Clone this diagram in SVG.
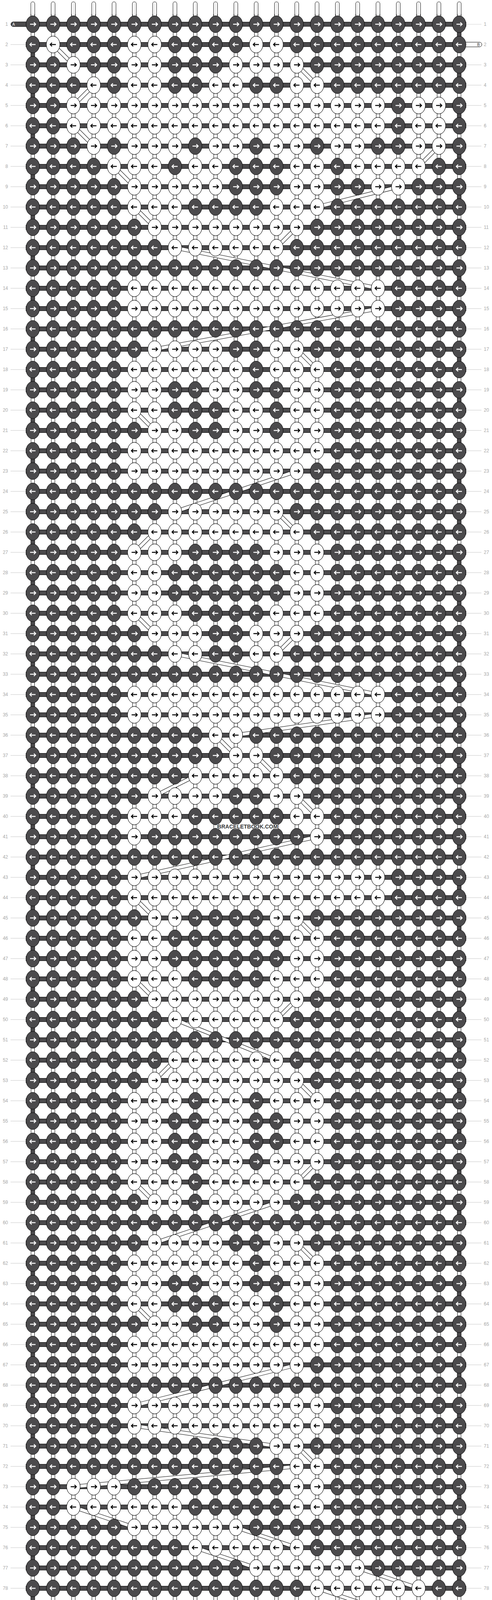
<svg xmlns="http://www.w3.org/2000/svg" width="1260" height="4232" viewBox="0 0 1260 4232">
<defs>
<style>
.kd{fill:#4b4a4c;stroke:#000;stroke-width:1}
.kw{fill:#fff;stroke:#000;stroke-width:1}
.aw{fill:none;stroke:#fff;stroke-width:2.3}
.ab{fill:none;stroke:#000;stroke-width:2.3}
.ll{font-family:"Liberation Sans",Arial,sans-serif;font-size:12px;fill:#a8a8a8}
.lt{font-family:"Liberation Sans",Arial,sans-serif;font-size:10px}
.wm{font-family:"Liberation Sans",Arial,sans-serif;font-size:14px;font-weight:bold;fill:#3a3a3a;stroke:#fff;stroke-width:2;paint-order:stroke}
</style>
<g id="dr"><ellipse rx="17.3" ry="21.5" class="kd"/><path d="M-7 0H7.5M2.8-4.7L7.5 0L2.8 4.7" class="aw"/></g>
<g id="dl"><ellipse rx="17.3" ry="21.5" class="kd"/><path d="M7 0H-7.5M-2.8-4.7L-7.5 0L-2.8 4.7" class="aw"/></g>
<g id="wr"><ellipse rx="17.3" ry="21.5" class="kw"/><path d="M-7 0H7.5M2.8-4.7L7.5 0L2.8 4.7" class="ab"/></g>
<g id="wl"><ellipse rx="17.3" ry="21.5" class="kw"/><path d="M7 0H-7.5M-2.8-4.7L-7.5 0L-2.8 4.7" class="ab"/></g>
<pattern id="pTop" patternUnits="userSpaceOnUse" x="58" y="3.5" width="52" height="38">
<path d="M21 38V6a5 5 0 0 1 10 0V38" fill="#fff" stroke="#000"/><path d="M26 3V38" stroke="#c8c8c8"/>
</pattern>
<pattern id="pBot" patternUnits="userSpaceOnUse" x="58" y="4190" width="52" height="38">
<path d="M21 0V32a5 5 0 0 0 10 0V0" fill="#fff" stroke="#000"/><path d="M26 0V35" stroke="#c8c8c8"/>
</pattern>
<pattern id="pThr" patternUnits="userSpaceOnUse" x="58" y="36" width="52" height="104">
<rect x="21" y="0" width="10" height="104" fill="#fff"/>
<path d="M21.5 0V104M30.5 0V104" stroke="#000"/>
<path d="M26 0V104" stroke="#c8c8c8"/>
<rect x="0" y="20" width="52" height="12" fill="#4b4a4c"/>
<rect x="0" y="72" width="52" height="12" fill="#4b4a4c"/>
<path d="M0 20.5H52M0 31.5H52M0 72.5H52M0 83.5H52" stroke="#000"/>
</pattern>
<pattern id="pKn" patternUnits="userSpaceOnUse" x="58" y="36" width="52" height="104">
<use href="#dr" x="26" y="26"/><use href="#dl" x="26" y="78"/>
</pattern>
<pattern id="pEdgeR" patternUnits="userSpaceOnUse" x="1170.5" y="62" width="11" height="104">
<rect x="0" y="0" width="11" height="52" fill="#4b4a4c"/><path d="M0.5 0V52M10.5 0V52" stroke="#000"/>
</pattern>
<pattern id="pEdgeL" patternUnits="userSpaceOnUse" x="78.5" y="114" width="11" height="104">
<rect x="0" y="0" width="11" height="52" fill="#4b4a4c"/><path d="M0.5 0V52M10.5 0V52" stroke="#000"/>
</pattern>
<pattern id="pLine" patternUnits="userSpaceOnUse" x="0" y="61.5" width="40" height="52">
<rect x="0" y="0" width="40" height="1" fill="#c4c4c4"/>
</pattern>
<path id="bands" fill="none" d="M136 114L188 166M760 166L812 218M240 218L188 270M188 322L240 374M1124 374L1072 426M292 426L344 478M1020 478L812 530M344 530L396 582M760 582L708 634M448 634L968 738M968 790L396 894M760 894L812 946M344 1050L396 1102M760 1206L448 1310M708 1310L760 1362M396 1362L344 1414M344 1570L396 1622M760 1622L708 1674M448 1674L968 1778M968 1830L604 1882M552 1882L604 1934M656 1934L708 1986M500 1986L396 2038M760 2038L812 2090M812 2142L344 2246M344 2298L396 2350M760 2350L812 2402M344 2506L396 2558M760 2558L708 2610M448 2610L708 2714M448 2714L396 2766M760 2766L812 2818M812 2974L760 3026M344 3026L396 3078M708 3078L396 3182M760 3182L812 3234M344 3338L396 3390M760 3494L344 3598M344 3650L708 3702M760 3702L812 3754M760 3754L188 3806M188 3858L344 3910M604 3910L760 3962M500 3962L656 4014M916 4014L1072 4066M812 4066L968 4118"/>
</defs>
<rect width="1260" height="4232" fill="#fff"/>
<g id="label-lines">
<rect x="27" y="61.5" width="40" height="4109" fill="url(#pLine)"/>
<rect x="1193" y="61.5" width="40" height="4109" fill="url(#pLine)"/>
</g>
<g id="strings">
<rect x="58" y="3.5" width="1144" height="38" fill="url(#pTop)"/>
<rect x="58" y="4190" width="1144" height="38" fill="url(#pBot)"/>
<rect x="66" y="36" width="1128" height="4160" fill="url(#pThr)"/>
<rect x="1170.5" y="62" width="11" height="4108" fill="url(#pEdgeR)"/>
<rect x="78.5" y="114" width="11" height="4004" fill="url(#pEdgeL)"/>
</g>
<g id="ends">
<g id="endA1"><rect x="28" y="56" width="52" height="12" rx="6" fill="#4b4a4c" stroke="#000"/><text class="lt" x="31.5" y="65.5" fill="#fff">A</text></g>
<g id="endA80"><rect x="28" y="4164" width="52" height="12" rx="6" fill="#4b4a4c" stroke="#000"/><text class="lt" x="31.5" y="4173.5" fill="#fff">A</text></g>
<g id="endB2"><rect x="1180" y="108" width="54" height="12" rx="6" fill="#fff" stroke="#000"/><text class="lt" x="1222" y="117.5" fill="#333">B</text></g>
<g id="endB79"><rect x="1180" y="4112" width="54" height="12" rx="6" fill="#fff" stroke="#000"/><text class="lt" x="1222" y="4121.5" fill="#333">B</text></g>
</g>
<g id="connectors">
<use href="#bands" stroke="#000" stroke-width="10"/>
<use href="#bands" stroke="#fff" stroke-width="8"/>
</g>
<g id="dark-knots"><rect x="58" y="36" width="1144" height="4160" fill="url(#pKn)"/></g>
<g id="white-knots">
<g id="r2" transform="translate(0 114)"><use href="#wl" x="136"/><use href="#wl" x="344"/><use href="#wl" x="396"/><use href="#wl" x="656"/><use href="#wl" x="708"/></g>
<g id="r3" transform="translate(0 166)"><use href="#wr" x="188"/><use href="#wr" x="344"/><use href="#wr" x="396"/><use href="#wr" x="604"/><use href="#wr" x="656"/><use href="#wr" x="708"/><use href="#wr" x="760"/></g>
<g id="r4" transform="translate(0 218)"><use href="#wl" x="240"/><use href="#wl" x="344"/><use href="#wl" x="396"/><use href="#wl" x="552"/><use href="#wl" x="604"/><use href="#wl" x="760"/><use href="#wl" x="812"/></g>
<g id="r5" transform="translate(0 270)"><use href="#wr" x="188"/><use href="#wr" x="240"/><use href="#wr" x="292"/><use href="#wr" x="344"/><use href="#wr" x="396"/><use href="#wr" x="448"/><use href="#wr" x="500"/><use href="#wr" x="552"/><use href="#wr" x="604"/><use href="#wr" x="656"/><use href="#wr" x="708"/><use href="#wr" x="760"/><use href="#wr" x="812"/><use href="#wr" x="864"/><use href="#wr" x="916"/><use href="#wr" x="968"/><use href="#wr" x="1072"/><use href="#wr" x="1124"/></g>
<g id="r6" transform="translate(0 322)"><use href="#wl" x="188"/><use href="#wl" x="240"/><use href="#wl" x="292"/><use href="#wl" x="344"/><use href="#wl" x="396"/><use href="#wl" x="448"/><use href="#wl" x="500"/><use href="#wl" x="552"/><use href="#wl" x="604"/><use href="#wl" x="656"/><use href="#wl" x="708"/><use href="#wl" x="760"/><use href="#wl" x="812"/><use href="#wl" x="864"/><use href="#wl" x="916"/><use href="#wl" x="968"/><use href="#wl" x="1072"/><use href="#wl" x="1124"/></g>
<g id="r7" transform="translate(0 374)"><use href="#wr" x="240"/><use href="#wr" x="344"/><use href="#wr" x="396"/><use href="#wr" x="448"/><use href="#wr" x="552"/><use href="#wr" x="604"/><use href="#wr" x="708"/><use href="#wr" x="760"/><use href="#wr" x="864"/><use href="#wr" x="916"/><use href="#wr" x="1072"/><use href="#wr" x="1124"/></g>
<g id="r8" transform="translate(0 426)"><use href="#wl" x="292"/><use href="#wl" x="344"/><use href="#wl" x="396"/><use href="#wl" x="500"/><use href="#wl" x="552"/><use href="#wl" x="760"/><use href="#wl" x="812"/><use href="#wl" x="916"/><use href="#wl" x="968"/><use href="#wl" x="1020"/><use href="#wl" x="1072"/></g>
<g id="r9" transform="translate(0 478)"><use href="#wr" x="344"/><use href="#wr" x="396"/><use href="#wr" x="448"/><use href="#wr" x="500"/><use href="#wr" x="552"/><use href="#wr" x="760"/><use href="#wr" x="812"/><use href="#wr" x="968"/><use href="#wr" x="1020"/></g>
<g id="r10" transform="translate(0 530)"><use href="#wl" x="344"/><use href="#wl" x="396"/><use href="#wl" x="448"/><use href="#wl" x="708"/><use href="#wl" x="760"/><use href="#wl" x="812"/></g>
<g id="r11" transform="translate(0 582)"><use href="#wr" x="396"/><use href="#wr" x="448"/><use href="#wr" x="500"/><use href="#wr" x="552"/><use href="#wr" x="604"/><use href="#wr" x="656"/><use href="#wr" x="708"/><use href="#wr" x="760"/></g>
<g id="r12" transform="translate(0 634)"><use href="#wl" x="448"/><use href="#wl" x="500"/><use href="#wl" x="552"/><use href="#wl" x="604"/><use href="#wl" x="656"/><use href="#wl" x="708"/></g>
<g id="r14" transform="translate(0 738)"><use href="#wl" x="344"/><use href="#wl" x="396"/><use href="#wl" x="448"/><use href="#wl" x="500"/><use href="#wl" x="552"/><use href="#wl" x="604"/><use href="#wl" x="656"/><use href="#wl" x="708"/><use href="#wl" x="760"/><use href="#wl" x="812"/><use href="#wl" x="864"/><use href="#wl" x="916"/><use href="#wl" x="968"/></g>
<g id="r15" transform="translate(0 790)"><use href="#wr" x="344"/><use href="#wr" x="396"/><use href="#wr" x="448"/><use href="#wr" x="500"/><use href="#wr" x="552"/><use href="#wr" x="604"/><use href="#wr" x="656"/><use href="#wr" x="708"/><use href="#wr" x="760"/><use href="#wr" x="812"/><use href="#wr" x="864"/><use href="#wr" x="916"/><use href="#wr" x="968"/></g>
<g id="r17" transform="translate(0 894)"><use href="#wr" x="396"/><use href="#wr" x="448"/><use href="#wr" x="500"/><use href="#wr" x="552"/><use href="#wr" x="708"/><use href="#wr" x="760"/></g>
<g id="r18" transform="translate(0 946)"><use href="#wl" x="344"/><use href="#wl" x="396"/><use href="#wl" x="448"/><use href="#wl" x="500"/><use href="#wl" x="552"/><use href="#wl" x="604"/><use href="#wl" x="708"/><use href="#wl" x="760"/><use href="#wl" x="812"/></g>
<g id="r19" transform="translate(0 998)"><use href="#wr" x="344"/><use href="#wr" x="396"/><use href="#wr" x="552"/><use href="#wr" x="604"/><use href="#wr" x="760"/><use href="#wr" x="812"/></g>
<g id="r20" transform="translate(0 1050)"><use href="#wl" x="344"/><use href="#wl" x="396"/><use href="#wl" x="604"/><use href="#wl" x="656"/><use href="#wl" x="760"/><use href="#wl" x="812"/></g>
<g id="r21" transform="translate(0 1102)"><use href="#wr" x="396"/><use href="#wr" x="448"/><use href="#wr" x="604"/><use href="#wr" x="656"/><use href="#wr" x="760"/><use href="#wr" x="812"/></g>
<g id="r22" transform="translate(0 1154)"><use href="#wl" x="344"/><use href="#wl" x="396"/><use href="#wl" x="448"/><use href="#wl" x="500"/><use href="#wl" x="552"/><use href="#wl" x="604"/><use href="#wl" x="656"/><use href="#wl" x="708"/><use href="#wl" x="760"/><use href="#wl" x="812"/></g>
<g id="r23" transform="translate(0 1206)"><use href="#wr" x="344"/><use href="#wr" x="396"/><use href="#wr" x="448"/><use href="#wr" x="500"/><use href="#wr" x="552"/><use href="#wr" x="604"/><use href="#wr" x="656"/><use href="#wr" x="708"/><use href="#wr" x="760"/></g>
<g id="r25" transform="translate(0 1310)"><use href="#wr" x="448"/><use href="#wr" x="500"/><use href="#wr" x="552"/><use href="#wr" x="604"/><use href="#wr" x="656"/><use href="#wr" x="708"/></g>
<g id="r26" transform="translate(0 1362)"><use href="#wl" x="396"/><use href="#wl" x="448"/><use href="#wl" x="500"/><use href="#wl" x="552"/><use href="#wl" x="604"/><use href="#wl" x="656"/><use href="#wl" x="708"/><use href="#wl" x="760"/></g>
<g id="r27" transform="translate(0 1414)"><use href="#wr" x="344"/><use href="#wr" x="396"/><use href="#wr" x="448"/><use href="#wr" x="708"/><use href="#wr" x="760"/><use href="#wr" x="812"/></g>
<g id="r28" transform="translate(0 1466)"><use href="#wl" x="344"/><use href="#wl" x="396"/><use href="#wl" x="760"/><use href="#wl" x="812"/></g>
<g id="r29" transform="translate(0 1518)"><use href="#wr" x="344"/><use href="#wr" x="396"/><use href="#wr" x="760"/><use href="#wr" x="812"/></g>
<g id="r30" transform="translate(0 1570)"><use href="#wl" x="344"/><use href="#wl" x="396"/><use href="#wl" x="448"/><use href="#wl" x="708"/><use href="#wl" x="760"/><use href="#wl" x="812"/></g>
<g id="r31" transform="translate(0 1622)"><use href="#wr" x="396"/><use href="#wr" x="448"/><use href="#wr" x="500"/><use href="#wr" x="656"/><use href="#wr" x="708"/><use href="#wr" x="760"/></g>
<g id="r32" transform="translate(0 1674)"><use href="#wl" x="448"/><use href="#wl" x="500"/><use href="#wl" x="656"/><use href="#wl" x="708"/></g>
<g id="r34" transform="translate(0 1778)"><use href="#wl" x="344"/><use href="#wl" x="396"/><use href="#wl" x="448"/><use href="#wl" x="500"/><use href="#wl" x="552"/><use href="#wl" x="604"/><use href="#wl" x="656"/><use href="#wl" x="708"/><use href="#wl" x="760"/><use href="#wl" x="812"/><use href="#wl" x="864"/><use href="#wl" x="916"/><use href="#wl" x="968"/></g>
<g id="r35" transform="translate(0 1830)"><use href="#wr" x="344"/><use href="#wr" x="396"/><use href="#wr" x="448"/><use href="#wr" x="500"/><use href="#wr" x="552"/><use href="#wr" x="604"/><use href="#wr" x="656"/><use href="#wr" x="708"/><use href="#wr" x="760"/><use href="#wr" x="812"/><use href="#wr" x="864"/><use href="#wr" x="916"/><use href="#wr" x="968"/></g>
<g id="r36" transform="translate(0 1882)"><use href="#wl" x="552"/><use href="#wl" x="604"/></g>
<g id="r37" transform="translate(0 1934)"><use href="#wr" x="604"/><use href="#wr" x="656"/></g>
<g id="r38" transform="translate(0 1986)"><use href="#wl" x="500"/><use href="#wl" x="552"/><use href="#wl" x="604"/><use href="#wl" x="656"/><use href="#wl" x="708"/></g>
<g id="r39" transform="translate(0 2038)"><use href="#wr" x="396"/><use href="#wr" x="448"/><use href="#wr" x="500"/><use href="#wr" x="552"/><use href="#wr" x="708"/><use href="#wr" x="760"/></g>
<g id="r40" transform="translate(0 2090)"><use href="#wl" x="344"/><use href="#wl" x="396"/><use href="#wl" x="448"/><use href="#wl" x="760"/><use href="#wl" x="812"/></g>
<g id="r41" transform="translate(0 2142)"><use href="#wr" x="344"/><use href="#wr" x="812"/></g>
<g id="r43" transform="translate(0 2246)"><use href="#wr" x="344"/><use href="#wr" x="396"/><use href="#wr" x="448"/><use href="#wr" x="500"/><use href="#wr" x="552"/><use href="#wr" x="604"/><use href="#wr" x="656"/><use href="#wr" x="708"/><use href="#wr" x="760"/><use href="#wr" x="812"/><use href="#wr" x="864"/><use href="#wr" x="916"/><use href="#wr" x="968"/></g>
<g id="r44" transform="translate(0 2298)"><use href="#wl" x="344"/><use href="#wl" x="396"/><use href="#wl" x="448"/><use href="#wl" x="500"/><use href="#wl" x="552"/><use href="#wl" x="604"/><use href="#wl" x="656"/><use href="#wl" x="708"/><use href="#wl" x="760"/><use href="#wl" x="812"/><use href="#wl" x="864"/><use href="#wl" x="916"/><use href="#wl" x="968"/></g>
<g id="r45" transform="translate(0 2350)"><use href="#wr" x="396"/><use href="#wr" x="448"/><use href="#wr" x="708"/><use href="#wr" x="760"/></g>
<g id="r46" transform="translate(0 2402)"><use href="#wl" x="344"/><use href="#wl" x="396"/><use href="#wl" x="760"/><use href="#wl" x="812"/></g>
<g id="r47" transform="translate(0 2454)"><use href="#wr" x="344"/><use href="#wr" x="396"/><use href="#wr" x="760"/><use href="#wr" x="812"/></g>
<g id="r48" transform="translate(0 2506)"><use href="#wl" x="344"/><use href="#wl" x="396"/><use href="#wl" x="448"/><use href="#wl" x="708"/><use href="#wl" x="760"/><use href="#wl" x="812"/></g>
<g id="r49" transform="translate(0 2558)"><use href="#wr" x="396"/><use href="#wr" x="448"/><use href="#wr" x="500"/><use href="#wr" x="552"/><use href="#wr" x="604"/><use href="#wr" x="656"/><use href="#wr" x="708"/><use href="#wr" x="760"/></g>
<g id="r50" transform="translate(0 2610)"><use href="#wl" x="448"/><use href="#wl" x="500"/><use href="#wl" x="552"/><use href="#wl" x="604"/><use href="#wl" x="656"/><use href="#wl" x="708"/></g>
<g id="r52" transform="translate(0 2714)"><use href="#wl" x="448"/><use href="#wl" x="500"/><use href="#wl" x="552"/><use href="#wl" x="604"/><use href="#wl" x="656"/><use href="#wl" x="708"/></g>
<g id="r53" transform="translate(0 2766)"><use href="#wr" x="396"/><use href="#wr" x="448"/><use href="#wr" x="500"/><use href="#wr" x="552"/><use href="#wr" x="604"/><use href="#wr" x="656"/><use href="#wr" x="708"/><use href="#wr" x="760"/></g>
<g id="r54" transform="translate(0 2818)"><use href="#wl" x="344"/><use href="#wl" x="396"/><use href="#wl" x="448"/><use href="#wl" x="552"/><use href="#wl" x="604"/><use href="#wl" x="708"/><use href="#wl" x="760"/><use href="#wl" x="812"/></g>
<g id="r55" transform="translate(0 2870)"><use href="#wr" x="344"/><use href="#wr" x="396"/><use href="#wr" x="552"/><use href="#wr" x="604"/><use href="#wr" x="760"/><use href="#wr" x="812"/></g>
<g id="r56" transform="translate(0 2922)"><use href="#wl" x="344"/><use href="#wl" x="396"/><use href="#wl" x="552"/><use href="#wl" x="604"/><use href="#wl" x="760"/><use href="#wl" x="812"/></g>
<g id="r57" transform="translate(0 2974)"><use href="#wr" x="344"/><use href="#wr" x="396"/><use href="#wr" x="552"/><use href="#wr" x="604"/><use href="#wr" x="708"/><use href="#wr" x="760"/><use href="#wr" x="812"/></g>
<g id="r58" transform="translate(0 3026)"><use href="#wl" x="344"/><use href="#wl" x="396"/><use href="#wl" x="448"/><use href="#wl" x="552"/><use href="#wl" x="604"/><use href="#wl" x="656"/><use href="#wl" x="708"/><use href="#wl" x="760"/></g>
<g id="r59" transform="translate(0 3078)"><use href="#wr" x="396"/><use href="#wr" x="448"/><use href="#wr" x="552"/><use href="#wr" x="604"/><use href="#wr" x="656"/><use href="#wr" x="708"/></g>
<g id="r61" transform="translate(0 3182)"><use href="#wr" x="396"/><use href="#wr" x="448"/><use href="#wr" x="500"/><use href="#wr" x="552"/><use href="#wr" x="708"/><use href="#wr" x="760"/></g>
<g id="r62" transform="translate(0 3234)"><use href="#wl" x="344"/><use href="#wl" x="396"/><use href="#wl" x="448"/><use href="#wl" x="500"/><use href="#wl" x="552"/><use href="#wl" x="604"/><use href="#wl" x="708"/><use href="#wl" x="760"/><use href="#wl" x="812"/></g>
<g id="r63" transform="translate(0 3286)"><use href="#wr" x="344"/><use href="#wr" x="396"/><use href="#wr" x="552"/><use href="#wr" x="604"/><use href="#wr" x="760"/><use href="#wr" x="812"/></g>
<g id="r64" transform="translate(0 3338)"><use href="#wl" x="344"/><use href="#wl" x="396"/><use href="#wl" x="604"/><use href="#wl" x="656"/><use href="#wl" x="760"/><use href="#wl" x="812"/></g>
<g id="r65" transform="translate(0 3390)"><use href="#wr" x="396"/><use href="#wr" x="448"/><use href="#wr" x="604"/><use href="#wr" x="656"/><use href="#wr" x="760"/><use href="#wr" x="812"/></g>
<g id="r66" transform="translate(0 3442)"><use href="#wl" x="344"/><use href="#wl" x="396"/><use href="#wl" x="448"/><use href="#wl" x="500"/><use href="#wl" x="552"/><use href="#wl" x="604"/><use href="#wl" x="656"/><use href="#wl" x="708"/><use href="#wl" x="760"/><use href="#wl" x="812"/></g>
<g id="r67" transform="translate(0 3494)"><use href="#wr" x="344"/><use href="#wr" x="396"/><use href="#wr" x="448"/><use href="#wr" x="500"/><use href="#wr" x="552"/><use href="#wr" x="604"/><use href="#wr" x="656"/><use href="#wr" x="708"/><use href="#wr" x="760"/></g>
<g id="r69" transform="translate(0 3598)"><use href="#wr" x="344"/><use href="#wr" x="396"/><use href="#wr" x="448"/><use href="#wr" x="500"/><use href="#wr" x="552"/><use href="#wr" x="604"/><use href="#wr" x="656"/><use href="#wr" x="708"/><use href="#wr" x="760"/><use href="#wr" x="812"/></g>
<g id="r70" transform="translate(0 3650)"><use href="#wl" x="344"/><use href="#wl" x="396"/><use href="#wl" x="448"/><use href="#wl" x="500"/><use href="#wl" x="552"/><use href="#wl" x="604"/><use href="#wl" x="656"/><use href="#wl" x="708"/><use href="#wl" x="760"/><use href="#wl" x="812"/></g>
<g id="r71" transform="translate(0 3702)"><use href="#wr" x="708"/><use href="#wr" x="760"/></g>
<g id="r72" transform="translate(0 3754)"><use href="#wl" x="760"/><use href="#wl" x="812"/></g>
<g id="r73" transform="translate(0 3806)"><use href="#wr" x="188"/><use href="#wr" x="240"/><use href="#wr" x="292"/><use href="#wr" x="760"/><use href="#wr" x="812"/></g>
<g id="r74" transform="translate(0 3858)"><use href="#wl" x="188"/><use href="#wl" x="240"/><use href="#wl" x="292"/><use href="#wl" x="344"/><use href="#wl" x="396"/><use href="#wl" x="448"/><use href="#wl" x="760"/><use href="#wl" x="812"/></g>
<g id="r75" transform="translate(0 3910)"><use href="#wr" x="344"/><use href="#wr" x="396"/><use href="#wr" x="448"/><use href="#wr" x="500"/><use href="#wr" x="552"/><use href="#wr" x="604"/></g>
<g id="r76" transform="translate(0 3962)"><use href="#wl" x="500"/><use href="#wl" x="552"/><use href="#wl" x="604"/><use href="#wl" x="656"/><use href="#wl" x="708"/><use href="#wl" x="760"/></g>
<g id="r77" transform="translate(0 4014)"><use href="#wr" x="656"/><use href="#wr" x="708"/><use href="#wr" x="760"/><use href="#wr" x="812"/><use href="#wr" x="864"/><use href="#wr" x="916"/></g>
<g id="r78" transform="translate(0 4066)"><use href="#wl" x="812"/><use href="#wl" x="864"/><use href="#wl" x="916"/><use href="#wl" x="968"/><use href="#wl" x="1020"/><use href="#wl" x="1072"/></g>
<g id="r79" transform="translate(0 4118)"><use href="#wr" x="968"/><use href="#wr" x="1020"/><use href="#wr" x="1072"/></g>
</g>
<text class="wm" x="634" y="2121" text-anchor="middle">BRACELETBOOK.COM</text>
<g id="row-labels-left" class="ll" text-anchor="end">
<text x="20.5" y="66">1</text><text x="20.5" y="118">2</text><text x="20.5" y="170">3</text><text x="20.5" y="222">4</text><text x="20.5" y="274">5</text><text x="20.5" y="326">6</text><text x="20.5" y="378">7</text><text x="20.5" y="430">8</text><text x="20.5" y="482">9</text><text x="20.5" y="534">10</text>
<text x="20.5" y="586">11</text><text x="20.5" y="638">12</text><text x="20.5" y="690">13</text><text x="20.5" y="742">14</text><text x="20.5" y="794">15</text><text x="20.5" y="846">16</text><text x="20.5" y="898">17</text><text x="20.5" y="950">18</text><text x="20.5" y="1002">19</text><text x="20.5" y="1054">20</text>
<text x="20.5" y="1106">21</text><text x="20.5" y="1158">22</text><text x="20.5" y="1210">23</text><text x="20.5" y="1262">24</text><text x="20.5" y="1314">25</text><text x="20.5" y="1366">26</text><text x="20.5" y="1418">27</text><text x="20.5" y="1470">28</text><text x="20.5" y="1522">29</text><text x="20.5" y="1574">30</text>
<text x="20.5" y="1626">31</text><text x="20.5" y="1678">32</text><text x="20.5" y="1730">33</text><text x="20.5" y="1782">34</text><text x="20.5" y="1834">35</text><text x="20.5" y="1886">36</text><text x="20.5" y="1938">37</text><text x="20.5" y="1990">38</text><text x="20.5" y="2042">39</text><text x="20.5" y="2094">40</text>
<text x="20.5" y="2146">41</text><text x="20.5" y="2198">42</text><text x="20.5" y="2250">43</text><text x="20.5" y="2302">44</text><text x="20.5" y="2354">45</text><text x="20.5" y="2406">46</text><text x="20.5" y="2458">47</text><text x="20.5" y="2510">48</text><text x="20.5" y="2562">49</text><text x="20.5" y="2614">50</text>
<text x="20.5" y="2666">51</text><text x="20.5" y="2718">52</text><text x="20.5" y="2770">53</text><text x="20.5" y="2822">54</text><text x="20.5" y="2874">55</text><text x="20.5" y="2926">56</text><text x="20.5" y="2978">57</text><text x="20.5" y="3030">58</text><text x="20.5" y="3082">59</text><text x="20.5" y="3134">60</text>
<text x="20.5" y="3186">61</text><text x="20.5" y="3238">62</text><text x="20.5" y="3290">63</text><text x="20.5" y="3342">64</text><text x="20.5" y="3394">65</text><text x="20.5" y="3446">66</text><text x="20.5" y="3498">67</text><text x="20.5" y="3550">68</text><text x="20.5" y="3602">69</text><text x="20.5" y="3654">70</text>
<text x="20.5" y="3706">71</text><text x="20.5" y="3758">72</text><text x="20.5" y="3810">73</text><text x="20.5" y="3862">74</text><text x="20.5" y="3914">75</text><text x="20.5" y="3966">76</text><text x="20.5" y="4018">77</text><text x="20.5" y="4070">78</text><text x="20.5" y="4122">79</text><text x="20.5" y="4174">80</text>
</g>
<g id="row-labels-right" class="ll">
<text x="1239" y="66">1</text><text x="1239" y="118">2</text><text x="1239" y="170">3</text><text x="1239" y="222">4</text><text x="1239" y="274">5</text><text x="1239" y="326">6</text><text x="1239" y="378">7</text><text x="1239" y="430">8</text><text x="1239" y="482">9</text><text x="1239" y="534">10</text>
<text x="1239" y="586">11</text><text x="1239" y="638">12</text><text x="1239" y="690">13</text><text x="1239" y="742">14</text><text x="1239" y="794">15</text><text x="1239" y="846">16</text><text x="1239" y="898">17</text><text x="1239" y="950">18</text><text x="1239" y="1002">19</text><text x="1239" y="1054">20</text>
<text x="1239" y="1106">21</text><text x="1239" y="1158">22</text><text x="1239" y="1210">23</text><text x="1239" y="1262">24</text><text x="1239" y="1314">25</text><text x="1239" y="1366">26</text><text x="1239" y="1418">27</text><text x="1239" y="1470">28</text><text x="1239" y="1522">29</text><text x="1239" y="1574">30</text>
<text x="1239" y="1626">31</text><text x="1239" y="1678">32</text><text x="1239" y="1730">33</text><text x="1239" y="1782">34</text><text x="1239" y="1834">35</text><text x="1239" y="1886">36</text><text x="1239" y="1938">37</text><text x="1239" y="1990">38</text><text x="1239" y="2042">39</text><text x="1239" y="2094">40</text>
<text x="1239" y="2146">41</text><text x="1239" y="2198">42</text><text x="1239" y="2250">43</text><text x="1239" y="2302">44</text><text x="1239" y="2354">45</text><text x="1239" y="2406">46</text><text x="1239" y="2458">47</text><text x="1239" y="2510">48</text><text x="1239" y="2562">49</text><text x="1239" y="2614">50</text>
<text x="1239" y="2666">51</text><text x="1239" y="2718">52</text><text x="1239" y="2770">53</text><text x="1239" y="2822">54</text><text x="1239" y="2874">55</text><text x="1239" y="2926">56</text><text x="1239" y="2978">57</text><text x="1239" y="3030">58</text><text x="1239" y="3082">59</text><text x="1239" y="3134">60</text>
<text x="1239" y="3186">61</text><text x="1239" y="3238">62</text><text x="1239" y="3290">63</text><text x="1239" y="3342">64</text><text x="1239" y="3394">65</text><text x="1239" y="3446">66</text><text x="1239" y="3498">67</text><text x="1239" y="3550">68</text><text x="1239" y="3602">69</text><text x="1239" y="3654">70</text>
<text x="1239" y="3706">71</text><text x="1239" y="3758">72</text><text x="1239" y="3810">73</text><text x="1239" y="3862">74</text><text x="1239" y="3914">75</text><text x="1239" y="3966">76</text><text x="1239" y="4018">77</text><text x="1239" y="4070">78</text><text x="1239" y="4122">79</text><text x="1239" y="4174">80</text>
</g>
</svg>
